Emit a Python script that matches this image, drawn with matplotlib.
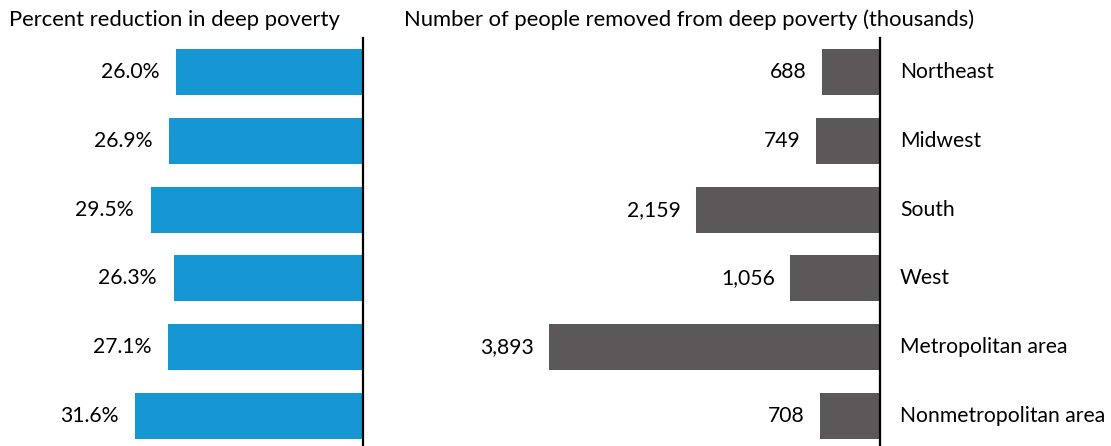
import matplotlib.pyplot as plt

plt.rcParams.update({
    "font.family": ["Lato", "DejaVu Sans"],
    "font.size": 15.2,
})

REGIONS = ["Northeast", "Midwest", "South", "West",
           "Metropolitan area", "Nonmetropolitan area"]
PCT_REDUCTION = [26.0, 26.9, 29.5, 26.3, 27.1, 31.6]
PEOPLE_REMOVED = [688, 749, 2159, 1056, 3893, 708]

BLUE = "#1696d2"
GREY = "#5c5859"

W, H = 1111, 446
fig = plt.figure(figsize=(W / 100, H / 100), dpi=100)


def px_axes(x0, x1, y0, y1):
    # axes placed by pixel edges (y measured from the top)
    return fig.add_axes([x0 / W, 1 - y1 / H, (x1 - x0) / W, (y1 - y0) / H])


def style(ax):
    for side in ("top", "left", "bottom"):
        ax.spines[side].set_visible(False)
    ax.spines["right"].set_linewidth(1.6)
    ax.spines["right"].set_color("black")
    ax.set_xticks([])
    ax.set_yticks([])
    ax.set_ylim(5.44, -0.5)
    ax.patch.set_visible(False)


ypos = list(range(len(REGIONS)))

# Left: percent reduction
ax1 = px_axes(0, 363, 38, 446)
style(ax1)
ax1.barh(ypos, PCT_REDUCTION, height=0.67, color=BLUE)
ax1.set_xlim(363 / 7.2, 0)
for y, v in zip(ypos, PCT_REDUCTION):
    ax1.annotate(f"{v:.1f}%", (v, y), xytext=(-12, 0),
                 textcoords="offset points", ha="right", va="center")

# Right: people removed (thousands)
ax2 = px_axes(404, 880, 38, 446)
style(ax2)
ax2.barh(ypos, PEOPLE_REMOVED, height=0.67, color=GREY)
ax2.set_xlim(476 / 0.085, 0)
for y, v in zip(ypos, PEOPLE_REMOVED):
    ax2.annotate(f"{v:,}", (v, y), xytext=(-11, 0),
                 textcoords="offset points", ha="right", va="center")
    ax2.annotate(REGIONS[y], (0, y), xytext=(14.5, 0),
                 textcoords="offset points", ha="left", va="center")

fig.text(9 / W, 1 - 20 / H, "Percent reduction in deep poverty",
         ha="left", va="center", fontsize=15.8)
fig.text(404 / W, 1 - 20 / H,
         "Number of people removed from deep poverty (thousands)",
         ha="left", va="center", fontsize=15.8)

fig.savefig("out.png", dpi=100)
